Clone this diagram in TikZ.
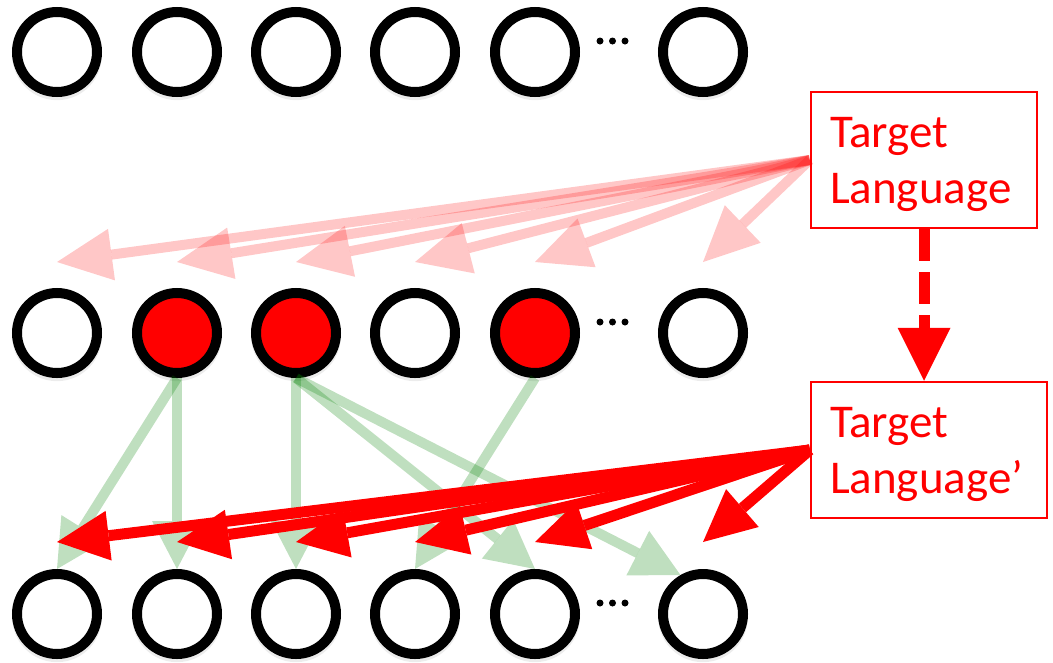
\documentclass[tikz,border=0pt]{standalone}
\usepackage{fontspec}
\setmainfont{Carlito}
\usetikzlibrary{arrows.meta,shadows}

\begin{document}
\begin{tikzpicture}[x=1pt,y=-1pt,
  u/.style={circle,draw,line width=10pt,minimum size=80pt,inner sep=0pt,fill=white,
    drop shadow={opacity=0.15,shadow scale=1.12,shadow xshift=0pt,shadow yshift=-3pt}},
  on/.style={u,fill=red},
  lang/.style={draw=red,line width=2.5pt,text=red,align=left,inner xsep=19pt,minimum height=136pt,
    font=\fontsize{47}{56}\selectfont},
  faint/.style={red,opacity=0.22,line width=10pt,-{Triangle[length=55pt,width=52pt,line width=0pt]}},
  hard/.style={red,line width=11pt,-{Triangle[length=52pt,width=50pt,line width=0pt]}},
  link/.style={green!50!black,opacity=0.25,line width=10pt,-{Triangle[length=48pt,width=50pt,line width=0pt]}}]
\useasboundingbox (0,0) rectangle (1053,662);
% ---- top layer ----
\node[u] (t1) at (57,52)  {};
\node[u] (t2) at (177,52) {};
\node[u] (t3) at (296,52) {};
\node[u] (t4) at (415,52) {};
\node[u] (t5) at (535,52) {};
\node[u] (t6) at (703,52) {};
% ---- middle layer (red = selected units) ----
\node[u]  (m1) at (57,333)  {};
\node[on] (m2) at (177,333) {};
\node[on] (m3) at (296,333) {};
\node[u]  (m4) at (415,333) {};
\node[on] (m5) at (535,333) {};
\node[u]  (m6) at (703,333) {};
% ---- bottom layer ----
\node[u] (b1) at (57,614)  {};
\node[u] (b2) at (177,614) {};
\node[u] (b3) at (296,614) {};
\node[u] (b4) at (415,614) {};
\node[u] (b5) at (535,614) {};
\node[u] (b6) at (703,614) {};
% ellipsis dots between the last two units
\fill (600,41) circle (3.5pt) (612.5,41) circle (3.5pt) (625,41) circle (3.5pt);
\fill (600,322) circle (3.5pt) (612.5,322) circle (3.5pt) (625,322) circle (3.5pt);
\fill (600,603) circle (3.5pt) (612.5,603) circle (3.5pt) (625,603) circle (3.5pt);
% ---- language boxes ----
\node[lang,text width=188pt] (tgt)  at (924,160) {\rule{0pt}{40pt}Target\\Language};
\node[lang,text width=198pt] (tgtp) at (929,450) {\rule{0pt}{40pt}Target\\Language'};
\draw[red,line width=11pt,dash pattern=on 32pt off 11pt,-{Triangle[length=53pt,width=53pt,line width=0pt]}]
  (tgt.south) -- (tgt.south |- tgtp.north);
% ---- faint arrows into the middle layer ----
\draw[faint] (tgt.west) -- ([yshift=26pt]m1.north);
\draw[faint] (tgt.west) -- ([yshift=26pt]m2.north);
\draw[faint] (tgt.west) -- ([yshift=26pt]m3.north);
\draw[faint] (tgt.west) -- ([yshift=26pt]m4.north);
\draw[faint] (tgt.west) -- ([yshift=26pt]m5.north);
\draw[faint] (tgt.west) -- ([yshift=26pt]m6.north);
% ---- green links from selected units ----
\draw[link] (m2.south) -- (b1.north);
\draw[link] (m2.south) -- (b2.north);
\draw[link] (m3.south) -- (b3.north);
\draw[link] (m3.south) -- (b5.north);
\draw[link] (m3.south) -- (b6.120);
\draw[link] (m5.south) -- (b4.north);
% ---- strong arrows into the bottom layer ----
\draw[hard] (tgtp.west) -- ([yshift=27pt]b1.north);
\draw[hard] (tgtp.west) -- ([yshift=27pt]b2.north);
\draw[hard] (tgtp.west) -- ([yshift=27pt]b3.north);
\draw[hard] (tgtp.west) -- ([yshift=27pt]b4.north);
\draw[hard] (tgtp.west) -- ([yshift=27pt]b5.north);
\draw[hard] (tgtp.west) -- ([yshift=27pt]b6.north);
\end{tikzpicture}
\end{document}
